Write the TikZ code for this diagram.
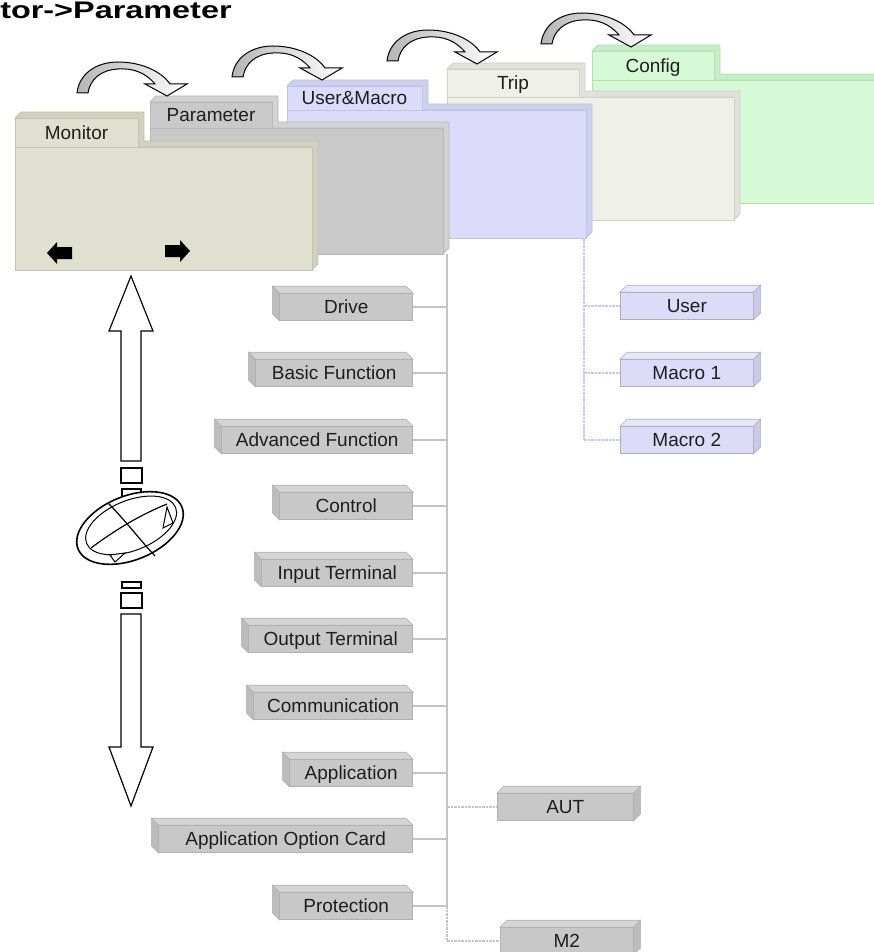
\documentclass[tikz,border=0pt]{standalone}
\usepackage{fontspec}
\setmainfont{Liberation Sans}
\usetikzlibrary{positioning}

\definecolor{ink}{HTML}{1E1E1E}
\definecolor{monfront}{HTML}{DFE0D0}
\definecolor{monside}{HTML}{D0D1BE}
\definecolor{monedge}{HTML}{C2C3B2}
\definecolor{parfront}{HTML}{C9C9C9}
\definecolor{parside}{HTML}{D3D3D3}
\definecolor{paredge}{HTML}{B8B8B8}
\definecolor{umfront}{HTML}{DCDCFA}
\definecolor{umside}{HTML}{CFCFF0}
\definecolor{umedge}{HTML}{C0C0E2}
\definecolor{tripfront}{HTML}{EFF0E8}
\definecolor{tripside}{HTML}{E1E2D9}
\definecolor{tripedge}{HTML}{CFD0C6}
\definecolor{cfgfront}{HTML}{D5FAD5}
\definecolor{cfgside}{HTML}{C5EEC5}
\definecolor{cfgedge}{HTML}{B7DDB7}
\definecolor{gfront}{HTML}{C8C8C8}
\definecolor{gtopc}{HTML}{D5D5D5}
\definecolor{gsidec}{HTML}{BCBCBC}
\definecolor{boxedge}{HTML}{B0B0B0}
\definecolor{lfront}{HTML}{DCDCF8}
\definecolor{ltopc}{HTML}{E7E7FB}
\definecolor{lsidec}{HTML}{C9C9EC}
\definecolor{linkgray}{HTML}{C4C4C4}
\definecolor{umline}{HTML}{C6C6F2}
\definecolor{turnfill}{HTML}{B5B5B5}

% folder card: name, left, tab top, tab right, tab bottom, body right, body bottom, label
\newcommand{\folder}[8]{%
  \filldraw[#1 side] (#2,#3) -- ++(6,-6) -- (#4+6,#3-6) -- (#4+6,#5-6)
    -- (#6+6,#5-6) -- (#6+6,#7-6) -- (#6,#7) -- (#6,#5) -- (#4,#5) -- (#4,#3) -- cycle;
  \filldraw[#1 front] (#2,#3) -- (#4,#3) -- (#4,#5) -- (#6,#5) -- (#6,#7) -- (#2,#7) -- cycle;
  \draw[#1 front, fill=none] (#2,#5) -- (#4,#5);
  \node[tablabel] (#1) at ({(#2+#4)/2},{(#3+#5)/2}) {#8};
}

\begin{document}
\begin{tikzpicture}[x=1pt, y=-1pt,
  font=\fontsize{19}{22}\selectfont,
  mon front/.style={draw=monedge, fill=monfront, line width=0.8pt},
  mon side/.style={draw=monedge, fill=monside, line width=0.8pt},
  par front/.style={draw=paredge, fill=parfront, line width=0.8pt},
  par side/.style={draw=paredge, fill=parside, line width=0.8pt},
  um front/.style={draw=umedge, fill=umfront, line width=0.8pt},
  um side/.style={draw=umedge, fill=umside, line width=0.8pt},
  trip front/.style={draw=tripedge, fill=tripfront, line width=0.8pt},
  trip side/.style={draw=tripedge, fill=tripside, line width=0.8pt},
  cfg front/.style={draw=cfgedge, fill=cfgfront, line width=0.8pt},
  cfg side/.style={draw=cfgedge, fill=cfgside, line width=0.8pt},
  tablabel/.style={inner sep=0pt, text=ink, text height=13.6pt, text depth=0pt},
  gbox/.style={rectangle, draw=boxedge, fill=gfront, line width=0.6pt, minimum height=27pt,
    inner sep=0pt, anchor=east, text=ink, text height=13.6pt, text depth=0pt},
  abox/.style={gbox, anchor=west},
  lbox/.style={gbox, fill=lfront, anchor=west},
  gtop/.style={draw=boxedge, fill=gtopc, line width=0.6pt},
  gside/.style={draw=boxedge, fill=gsidec, line width=0.6pt},
  ltop/.style={draw=boxedge, fill=ltopc, line width=0.6pt},
  lside/.style={draw=boxedge, fill=lsidec, line width=0.6pt},
  link/.style={draw=linkgray, line width=1.3pt},
  dotlink/.style={link, dash pattern=on 2.5pt off 1pt},
  umlink/.style={draw=umline, line width=1.2pt, dash pattern=on 2.5pt off 1pt},
  hollow/.style={draw=black, fill=white, line width=1.2pt},
  turnarrow/.style={draw=black, line width=1pt, left color=turnfill, right color=white},
  turn/.pic={
    \path[turnarrow] (0,0) .. controls (2,-19) and (19,-31) .. (41,-31)
      .. controls (65,-31) and (85,-21) .. (93,-9) -- (110,-9) -- (90,3) -- (68,-9) -- (78,-9)
      .. controls (68,-21) and (55,-25) .. (41,-24) .. controls (23,-23) and (13,-13) .. (11,0) -- cycle;
  }
]
  \useasboundingbox (0,0) rectangle (874,952);

  % heading
  \node[font=\fontsize{24}{28}\selectfont\bfseries, xscale=1.35, transform shape,
    anchor=base west, inner sep=0pt, text=black] (title) at (0,18.5) {tor->Parameter};

  % menu folders, back to front
  \folder{cfg}{592}{51}{714}{80}{900}{203}{Config}
  \folder{trip}{447}{69}{579}{97}{734}{220}{Trip}
  \folder{um}{287}{86}{422}{110}{586}{238}{User\&Macro}
  \folder{par}{150}{102}{272}{128}{443}{254}{Parameter}
  \folder{mon}{15}{118}{138}{147}{312}{270}{Monitor}

  % arrows on the monitor card
  \fill[black] (47,253) -- (57,242) -- (57,247) -- (72,247) -- (72,259) -- (57,259) -- (57,264) -- cycle;
  \fill[black] (190,251) -- (180,240) -- (180,245) -- (165,245) -- (165,257) -- (180,257) -- (180,262) -- cycle;

  % page turn arrows
  \pic at (77,93) {turn};
  \pic at (232,77) {turn};
  \pic at (387,61) {turn};
  \pic at (541,44) {turn};

  % up/down key
  \draw[hollow] (121,461) -- (121,331) -- (109,331) -- (131,276) -- (153,331) -- (141,331) -- (141,461) -- cycle;
  \draw[hollow] (121,468) rectangle (142,483);
  \draw[hollow] (122,489) rectangle (141,497);
  \begin{scope}[shift={(130,528)}, rotate=22]
    \filldraw[fill=white, draw=black, line width=1.6pt] (0,0) ellipse [x radius=56pt, y radius=32pt];
    \draw[line width=1pt] (2,-2) ellipse [x radius=48pt, y radius=25pt];
  \end{scope}
  \draw[line width=1.2pt] (108,503) .. controls (125,520) and (140,540) .. (155,556);
  \draw[line width=1.2pt] (91,548) .. controls (115,530) and (140,515) .. (167,504);
  \draw[hollow, line width=1pt] (167,507) -- (173,523) -- (163,528) -- cycle;
  \draw[hollow, line width=1pt] (110,555) -- (125,553) -- (115,562) -- cycle;
  \draw[hollow] (122,582) rectangle (141,588);
  \draw[hollow] (121,593) rectangle (142,608);
  \draw[hollow] (121,614) -- (121,747) -- (109,747) -- (131,806) -- (153,747) -- (141,747) -- (141,614) -- cycle;

  % parameter groups
  \node[gbox, minimum width=133pt] (drive) at (413,307) {Drive};
  \node[gbox, minimum width=157pt] (basic) at (413,373) {Basic Function};
  \node[gbox, minimum width=191pt] (advanced) at (413,440) {Advanced Function};
  \node[gbox, minimum width=133pt] (control) at (413,506) {Control};
  \node[gbox, minimum width=151pt] (input) at (413,573) {Input Terminal};
  \node[gbox, minimum width=164pt] (output) at (413,639) {Output Terminal};
  \node[gbox, minimum width=159pt] (comm) at (413,706) {Communication};
  \node[gbox, minimum width=123pt] (app) at (413,773) {Application};
  \node[gbox, minimum width=254pt] (card) at (413,839) {Application Option Card};
  \node[gbox, minimum width=133pt] (prot) at (413,906) {Protection};
  \foreach \n in {drive,basic,advanced,control,input,output,comm,app,card,prot} {
    \filldraw[gtop] (\n.north west) -- ++(-7,-7) -- ([shift={(-7,-7)}]\n.north east) -- (\n.north east) -- cycle;
    \filldraw[gside] (\n.north west) -- ++(-7,-7) -- ([shift={(-7,-7)}]\n.south west) -- (\n.south west) -- cycle;
  }

  % optional groups
  \node[abox, minimum width=136pt] (aut) at (497,807) {AUT};
  \node[abox, minimum width=133pt] (mtwo) at (500,941) {M2};

  % user and macro groups
  \node[lbox, minimum width=133pt] (user) at (620,306) {User};
  \node[lbox, minimum width=133pt] (macroa) at (620,373) {Macro 1};
  \node[lbox, minimum width=133pt] (macrob) at (620,440) {Macro 2};
  \foreach \n/\t/\s in {user/ltop/lside, macroa/ltop/lside, macrob/ltop/lside, aut/gtop/gside, mtwo/gtop/gside} {
    \filldraw[\t] (\n.north west) -- ++(7,-7) -- ([shift={(7,-7)}]\n.north east) -- (\n.north east) -- cycle;
    \filldraw[\s] (\n.north east) -- ++(7,-7) -- ([shift={(7,-7)}]\n.south east) -- (\n.south east) -- cycle;
  }

  % tree lines
  \coordinate (trunk) at (447,254);
  \coordinate (umtrunk) at (584,238);
  \draw[link] (trunk) -- (trunk |- prot.east);
  \foreach \n in {drive,basic,advanced,control,input,output,comm,app,card,prot}
    \draw[link] (\n.east) -- (\n.east -| trunk);
  \draw[dotlink] (trunk |- aut.west) -- (aut.west);
  \draw[dotlink] (trunk |- prot.east) -- (trunk |- mtwo.west) -- (mtwo.west);
  \draw[umlink] (umtrunk) -- (umtrunk |- macrob.west);
  \foreach \n in {user,macroa,macrob}
    \draw[umlink] (umtrunk |- \n.west) -- (\n.west);
\end{tikzpicture}
\end{document}
